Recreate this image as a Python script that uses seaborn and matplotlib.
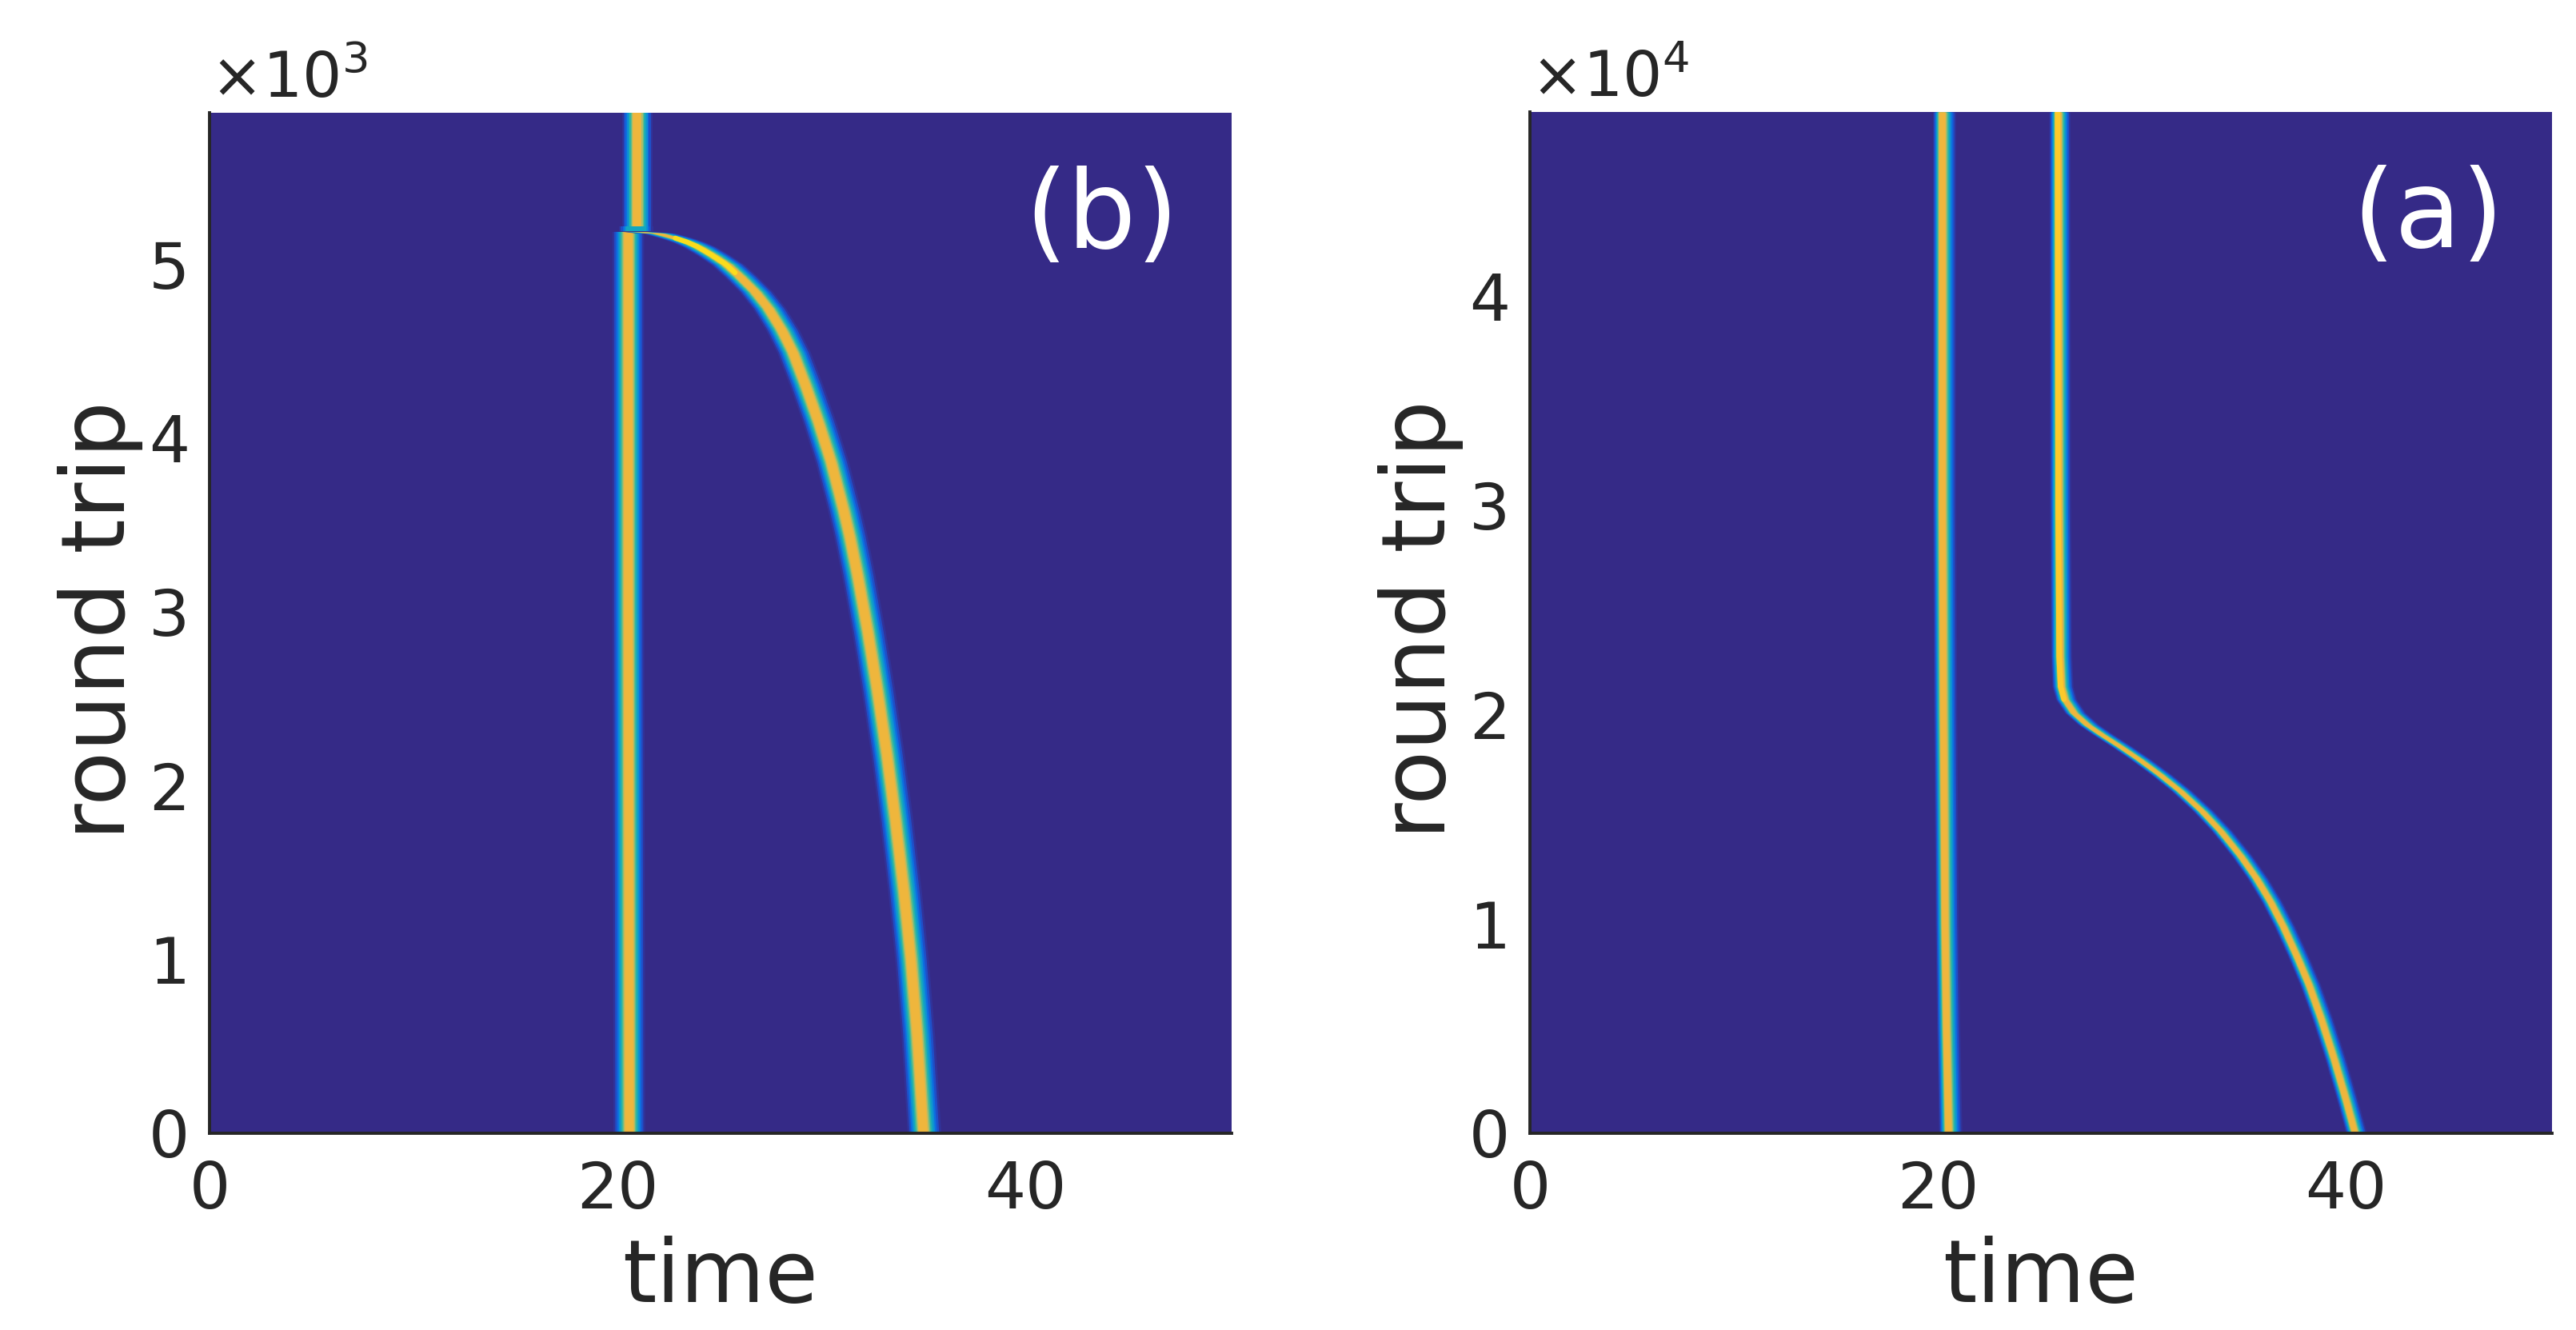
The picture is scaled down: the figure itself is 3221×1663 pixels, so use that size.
"""
plot.py
-------
Two pulse-track panels, time against round trip, parula style colours.
"""

import numpy as np
import matplotlib
matplotlib.use("Agg")
import matplotlib.pyplot as plt
import seaborn as sns

# panel (b), round trip in units of 10^3
b_low_rt = [0.0, 1.5, 3.0, 4.5, 5.187]
b_low_t = [20.55, 20.53, 20.5, 20.5, 20.5]
b_up_rt = [5.218, 5.5, 5.87]
b_up_t = [20.94, 20.94, 20.94]
b_gap_rt = [5.187, 5.218]
b_gap_t = [20.9, 20.9]
b_curve_rt = [0.0, 0.57, 1.007, 1.384, 1.802, 2.179, 2.552, 2.883, 3.214,
              3.434, 3.586, 3.862, 4.092, 4.308, 4.492, 4.621, 4.745, 4.841,
              4.929, 4.998, 5.053, 5.099, 5.126, 5.149, 5.177, 5.185]
b_curve_t = [34.94, 34.63, 34.32, 33.99, 33.57, 33.15, 32.68, 32.22, 31.71,
             31.33, 31.03, 30.42, 29.8, 29.15, 28.55, 28.0, 27.35, 26.7,
             25.95, 25.3, 24.59, 23.92, 23.41, 22.82, 21.96, 21.0]
b_peak_rt = [4.95, 4.998, 5.053, 5.099, 5.126, 5.149]
b_peak_t = [25.75, 25.3, 24.59, 23.92, 23.41, 22.82]

# panel (a), round trip in units of 10^4
a_left_rt = [0.0, 0.5, 1.0, 2.0, 3.0, 4.88]
a_left_t = [20.45, 20.35, 20.28, 20.2, 20.15, 20.15]
a_curve_rt = [0.0, 0.168, 0.359, 0.55, 0.71, 0.844, 0.989, 1.108, 1.218,
              1.325, 1.444, 1.539, 1.635, 1.715, 1.788, 1.849, 1.906, 1.952,
              2.009, 2.074, 2.135, 2.28, 3.0, 4.88]
a_curve_t = [40.39, 39.92, 39.35, 38.72, 38.13, 37.55, 36.87, 36.24, 35.56,
             34.79, 33.81, 32.9, 31.84, 30.82, 29.8, 28.88, 27.97, 27.28,
             26.62, 26.17, 26.0, 25.93, 25.88, 25.85]
a_peak_rt = [2.074, 2.135, 2.28, 3.0, 4.88]
a_peak_t = [26.17, 26.0, 25.93, 25.88, 25.85]

# colour steps from the edge of a pulse to its core
band_colors = ["#31339a", "#1f4fc8", "#0d6ee0", "#0e8fd4", "#12a6c0",
               "#2fb5a3", "#63bb88", "#a5bd6c", "#dcb84c", "#efb63c"]
band_scale = [1.0, 0.88, 0.76, 0.66, 0.57, 0.49, 0.42, 0.36, 0.30, 0.24]

BG = "#352a87"
INK = "#262626"

time_ticks = [0, 20, 40]
b_rt_ticks = [0, 1, 2, 3, 4, 5]
a_rt_ticks = [0, 1, 2, 3, 4]

W, H = 3221, 1663


def draw_pulse(ax, t, rt, left, right, levels=10):
    t = np.array(t)
    for color, s in zip(band_colors[:levels], band_scale[:levels]):
        ax.fill_betweenx(rt, t - left * s, t + right * s, color=color, lw=0)


def draw_peak(ax, t, rt, color, width):
    sns.lineplot(x=t, y=rt, sort=False, estimator=None, orient="y", ax=ax,
                 color=color, lw=width, legend=False)


def style_panel(ax, rt_max, rt_ticks, power, tag, tag_x):
    ax.set_facecolor(BG)
    ax.set_xlim(0, 50.08)
    ax.set_ylim(0, rt_max)
    ax.set_xticks(time_ticks)
    ax.set_yticks(rt_ticks)
    ax.tick_params(length=0, labelsize=29, labelcolor=INK)
    ax.tick_params(axis="x", pad=12)
    ax.tick_params(axis="y", pad=9)
    ax.set_xlabel("time", fontsize=39, color=INK)
    ax.set_ylabel("round trip", fontsize=40, color=INK)
    ax.xaxis.set_label_coords(0.5, -0.1)
    ax.yaxis.set_label_coords(-0.065, 0.503)
    sns.despine(ax=ax)
    for side in ["left", "bottom"]:
        ax.spines[side].set_linewidth(1.4)
        ax.spines[side].set_color(INK)
    ax.text(0.001, 1.015, rf"$\mathregular{{\times 10^{{{power}}}}}$",
            transform=ax.transAxes, fontsize=28, color=INK, va="baseline")
    ax.text(tag_x, 0.897, tag, transform=ax.transAxes, fontsize=49, color="white",
            ha="center", va="center")


def main():
    sns.set_theme(style="ticks")
    plt.rcParams["font.family"] = ["DejaVu Sans"]

    fig = plt.figure(figsize=(W / 200, H / 200), dpi=200)
    ax_b = fig.add_axes([262 / W, (H - 1417) / H, 1278 / W, 1276 / H])
    ax_a = fig.add_axes([1913 / W, (H - 1417) / H, 1278 / W, 1277 / H])

    # panel (b)
    draw_pulse(ax_b, b_low_t, b_low_rt, 0.78, 0.78)
    draw_pulse(ax_b, b_up_t, b_up_rt, 0.72, 0.78)
    draw_pulse(ax_b, b_gap_t, b_gap_rt, 0.85, 0.85, levels=5)
    draw_pulse(ax_b, b_curve_t, b_curve_rt, 0.75, 0.9)
    draw_peak(ax_b, b_peak_t, b_peak_rt, "#fbdc1c", 2.2)
    style_panel(ax_b, 5.87, b_rt_ticks, 3, "(b)", 0.873)

    # panel (a)
    draw_pulse(ax_a, a_left_t, a_left_rt, 0.42, 0.72)
    draw_pulse(ax_a, a_curve_t, a_curve_rt, 0.42, 0.62)
    draw_peak(ax_a, a_peak_t, a_peak_rt, "#fdca2a", 2.4)
    style_panel(ax_a, 4.88, a_rt_ticks, 4, "(a)", 0.879)

    fig.savefig("out.png", dpi=200)
    plt.close(fig)


if __name__ == "__main__":
    main()
